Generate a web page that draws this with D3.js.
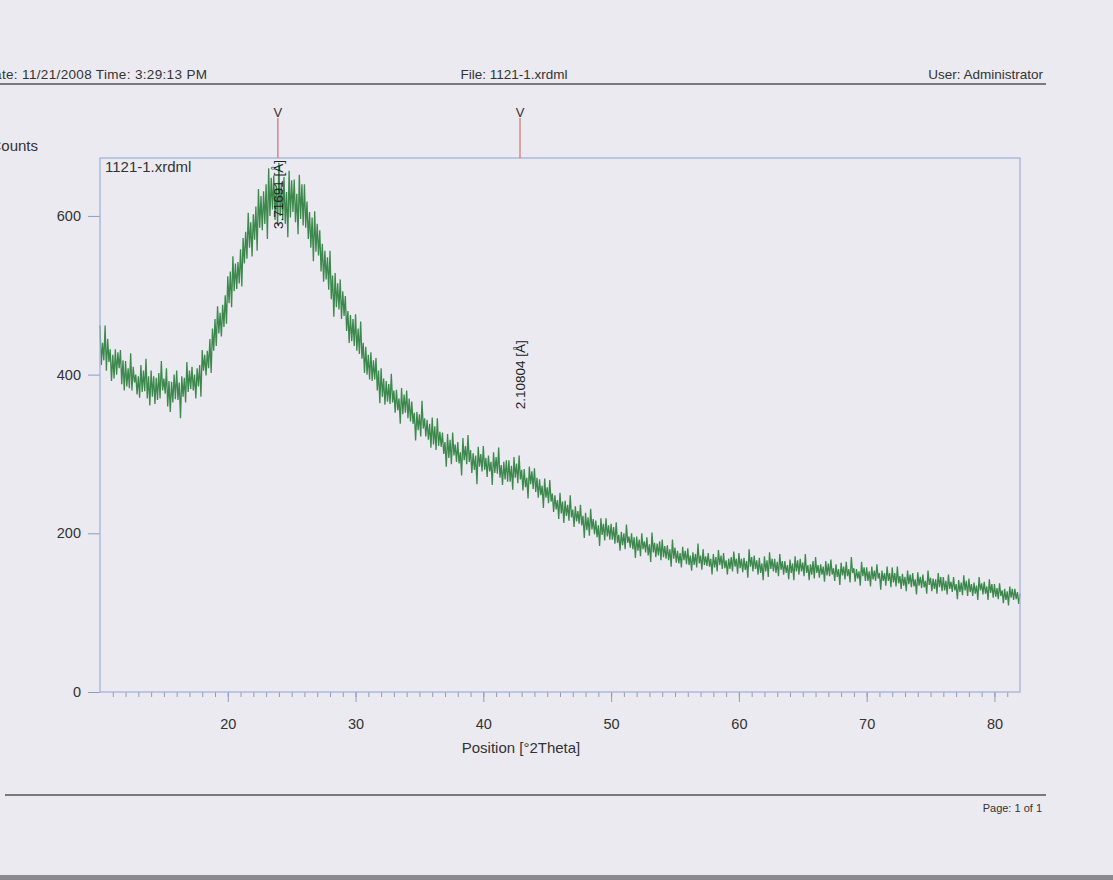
<!DOCTYPE html>
<html>
<head>
<meta charset="utf-8">
<script src="https://cdn.jsdelivr.net/npm/d3@7"></script>
<style>
  body { margin: 0; background: #ebeaf0; }
  svg { display: block; font-family: "Liberation Sans", Arial, sans-serif; }
</style>
</head>
<body>
<div id="scan"></div>
<script>
// scan settings: 2Theta from 10 to 82 in 0.1 deg steps
const startPos = 10, stepSize = 0.1;

// counts, one row = 2 deg
const counts = [
    462, 412, 440, 418, 462, 405, 445, 416, 432, 392, 425, 395, 432, 400, 428, 408, 431, 388, 418, 380,
    417, 385, 408, 383, 427, 380, 410, 390, 400, 375, 398, 371, 412, 378, 405, 379, 420, 370, 398, 361,
    405, 372, 398, 363, 396, 368, 402, 370, 417, 380, 395, 376, 408, 360, 392, 353, 391, 365, 400, 369,
    405, 368, 390, 345, 398, 372, 396, 365, 416, 378, 405, 382, 410, 380, 400, 370, 408, 385, 412, 372,
    431, 405, 425, 399, 430, 408, 445, 402, 458, 430, 470, 436, 486, 452, 478, 448, 488, 460, 500, 464,
    524, 490, 530, 485, 549, 505, 540, 508, 542, 515, 558, 511, 572, 540, 580, 546, 604, 560, 592, 549,
    602, 570, 612, 556, 634, 585, 625, 582, 631, 590, 640, 571, 660, 600, 648, 608, 651, 595, 638, 588,
    667, 600, 642, 595, 649, 590, 630, 573, 657, 598, 645, 605, 646, 592, 628, 577, 652, 596, 640, 588,
    640, 585, 618, 571, 605, 560, 598, 543, 606, 555, 590, 550, 582, 530, 565, 517, 556, 520, 548, 507,
    556, 495, 525, 473, 528, 485, 515, 482, 520, 470, 505, 474, 499, 455, 480, 440, 475, 442, 470, 436,
    476, 430, 458, 426, 467, 420, 440, 402, 435, 400, 425, 394, 428, 392, 418, 394, 421, 380, 405, 364,
    408, 372, 395, 362, 392, 366, 388, 363, 401, 365, 380, 352, 381, 355, 370, 338, 383, 350, 375, 352,
    380, 345, 370, 341, 366, 338, 352, 317, 353, 330, 350, 322, 367, 332, 345, 322, 343, 318, 338, 308,
    346, 312, 335, 305, 345, 310, 328, 309, 327, 300, 315, 284, 325, 295, 318, 287, 327, 298, 312, 290,
    315, 288, 302, 273, 320, 292, 310, 287, 324, 290, 305, 276, 301, 280, 298, 262, 309, 284, 300, 278,
    310, 280, 295, 271, 298, 278, 290, 261, 302, 276, 296, 275, 308, 270, 286, 261, 290, 268, 292, 265,
    292, 265, 285, 255, 296, 270, 288, 263, 298, 268, 280, 254, 281, 258, 270, 244, 284, 262, 278, 256,
    282, 252, 270, 245, 268, 248, 260, 232, 269, 245, 258, 238, 267, 240, 250, 227, 248, 230, 242, 218,
    251, 225, 240, 213, 241, 222, 236, 216, 248, 220, 230, 208, 234, 215, 228, 212, 236, 210, 222, 194,
    226, 204, 220, 197, 231, 205, 218, 199, 216, 195, 210, 184, 219, 198, 212, 191, 219, 196, 210, 192,
    212, 192, 208, 187, 214, 188, 198, 178, 202, 185, 200, 180, 211, 188, 196, 182, 200, 180, 195, 169,
    196, 178, 192, 171, 200, 180, 190, 176, 195, 172, 186, 164, 201, 176, 188, 170, 187, 172, 190, 166,
    192, 170, 184, 168, 185, 166, 180, 158, 192, 168, 182, 163, 178, 162, 175, 157, 183, 166, 178, 161,
    181, 160, 172, 153, 176, 160, 174, 157, 187, 162, 172, 154, 180, 160, 171, 159, 175, 158, 168, 148,
    174, 157, 170, 152, 179, 160, 172, 155, 175, 156, 166, 148, 168, 155, 170, 152, 177, 158, 168, 149,
    175, 156, 168, 151, 169, 154, 165, 144, 180, 158, 170, 152, 172, 155, 166, 148, 169, 150, 162, 141,
    171, 152, 166, 145, 176, 155, 168, 152, 168, 150, 164, 146, 174, 154, 165, 148, 165, 150, 160, 142,
    167, 150, 162, 141, 171, 152, 166, 148, 168, 152, 163, 146, 174, 150, 160, 141, 161, 148, 165, 143,
    170, 150, 160, 144, 161, 148, 158, 139, 165, 147, 162, 146, 167, 148, 156, 140, 161, 145, 155, 135,
    163, 147, 158, 142, 164, 146, 155, 138, 170, 150, 156, 139, 155, 143, 152, 134, 164, 146, 157, 140,
    157, 140, 152, 133, 158, 142, 153, 140, 161, 143, 150, 129, 153, 140, 150, 134, 158, 140, 150, 132,
    157, 138, 150, 133, 158, 137, 146, 130, 149, 134, 145, 127, 153, 136, 148, 132, 150, 133, 142, 123,
    151, 134, 145, 131, 148, 132, 140, 124, 153, 135, 144, 127, 143, 130, 142, 124, 150, 132, 145, 127,
    145, 128, 140, 123, 148, 130, 139, 126, 145, 128, 136, 117, 141, 126, 138, 122, 147, 128, 140, 121,
    143, 126, 136, 121, 138, 124, 134, 116, 145, 128, 137, 123, 139, 124, 133, 116, 142, 125, 136, 119,
    136, 120, 131, 117, 137, 121, 128, 112, 130, 116, 127, 109, 133, 119, 130, 116, 130, 117, 126, 111,
    124
];

// peak list (d-spacings shown as labels)
const peakPos = [23.92, 42.87];
const peakD = ["3.71691", "2.10804"];
const peakCounts = [625, 272];

const yTicks = [0, 200, 400, 600];
const xTicks = [20, 30, 40, 50, 60, 70, 80];

const margin = {top: 158, right: 93, bottom: 188, left: 100},
    width = 1113 - margin.left - margin.right,
    height = 880 - margin.top - margin.bottom;

const svg = d3.select("#scan")
    .append("svg")
    .attr("width", 1113)
    .attr("height", 880);

// page header / footer (the scan cuts the left edge of the page)
svg.append("text").attr("x", -16).attr("y", 79)
    .attr("textLength", 223).attr("lengthAdjust", "spacing")
    .style("font-size", "13.5px").attr("fill", "#333")
    .text("Date: 11/21/2008 Time: 3:29:13 PM");
svg.append("text").attr("x", 514).attr("y", 79).attr("text-anchor", "middle")
    .style("font-size", "13.5px").attr("fill", "#333")
    .text("File: 1121-1.xrdml");
svg.append("text").attr("x", 1043).attr("y", 79).attr("text-anchor", "end")
    .style("font-size", "13.5px").attr("fill", "#333")
    .text("User: Administrator");
svg.append("line").attr("x1", 0).attr("x2", 1046).attr("y1", 84).attr("y2", 84)
    .attr("stroke", "#555").attr("stroke-width", 1.6);

svg.append("line").attr("x1", 5).attr("x2", 1046).attr("y1", 795).attr("y2", 795)
    .attr("stroke", "#555").attr("stroke-width", 1.6);
svg.append("text").attr("x", 1042).attr("y", 812).attr("text-anchor", "end")
    .style("font-size", "11px").attr("fill", "#333")
    .text("Page: 1 of 1");
svg.append("rect").attr("x", 0).attr("y", 875).attr("width", 1113).attr("height", 5)
    .attr("fill", "#8a8990");

svg.append("text").attr("x", 38).attr("y", 151).attr("text-anchor", "end")
    .style("font-size", "15px").attr("fill", "#333")
    .text("Counts");

const g = svg.append("g")
    .attr("transform", "translate(" + margin.left + "," + margin.top + ")");

const x = d3.scaleLinear()
    .domain([10, 82])
    .range([0, width]);

const y = d3.scaleLinear()
    .domain([0, 673])
    .range([height, 0]);

// minor ticks every degree, major every 10
g.append("g")
    .attr("transform", `translate(0, ${height})`)
    .call(d3.axisBottom(x).tickValues(d3.range(11, 82)).tickSize(5).tickFormat(""))
    .call(a => a.select(".domain").remove())
    .call(a => a.selectAll("line").attr("stroke", "#8d9cc0"));

g.append("g")
    .attr("transform", `translate(0, ${height})`)
    .call(d3.axisBottom(x).tickValues(xTicks).tickSize(10).tickPadding(17))
    .call(a => a.select(".domain").remove())
    .call(a => a.selectAll("line").attr("stroke", "#8d9cc0"))
    .call(a => a.selectAll("text").style("font-size", "14.5px").attr("fill", "#333")
        .style("font-family", "Liberation Sans, Arial, sans-serif"));

g.append("g")
    .call(d3.axisLeft(y).tickValues(yTicks).tickSize(12).tickPadding(7))
    .call(a => a.select(".domain").remove())
    .call(a => a.selectAll("line").attr("stroke", "#8d9cc0"))
    .call(a => a.selectAll("text").style("font-size", "14.5px").attr("fill", "#333")
        .style("font-family", "Liberation Sans, Arial, sans-serif"));

svg.append("text").attr("x", 521).attr("y", 753).attr("text-anchor", "middle")
    .style("font-size", "15px").attr("fill", "#333")
    .text("Position [°2Theta]");

// the scan itself
const line = d3.line()
    .x((d, i) => x(startPos + i * stepSize))
    .y(d => y(d));

g.append("path")
    .datum(counts)
    .attr("fill", "none")
    .attr("stroke", "#3d894d")
    .attr("stroke-width", 1.3)
    .attr("d", line);

// plot frame
g.append("rect")
    .attr("width", width).attr("height", height)
    .attr("fill", "none")
    .attr("stroke", "#a3b3d8")
    .attr("stroke-width", 1.3);

g.append("text").attr("x", 5).attr("y", 14)
    .style("font-size", "15px").attr("fill", "#333")
    .text("1121-1.xrdml");

// peak markers above the frame
peakPos.forEach((p, i) => {
    const px = x(p);
    g.append("line").attr("x1", px).attr("x2", px).attr("y1", -40).attr("y2", 0)
        .attr("stroke", "#d9757a").attr("stroke-width", 1.3);
    g.append("text").attr("x", px).attr("y", -41).attr("text-anchor", "middle")
        .style("font-size", "13px").attr("fill", "#333").text("V");
    const top = Math.max(2, y(peakCounts[i]) - 136);
    g.append("text")
        .attr("transform", `translate(${px + 5}, ${top}) rotate(-90)`)
        .attr("text-anchor", "end")
        .style("font-size", "13.5px").attr("fill", "#222")
        .text(peakD[i] + " [Å]");
});
</script>
</body>
</html>
